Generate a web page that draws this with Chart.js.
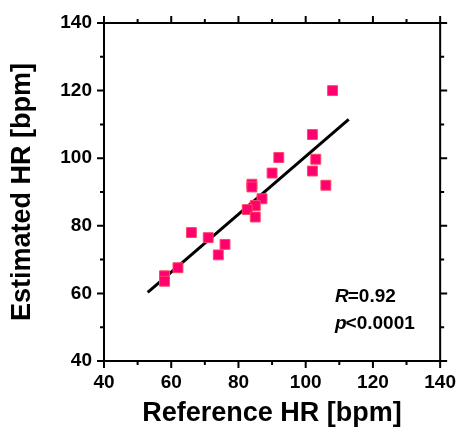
<!DOCTYPE html>
<html>
<head>
<meta charset="utf-8">
<script src="https://cdn.jsdelivr.net/npm/chart.js@4/dist/chart.umd.min.js"></script>
<style>
html,body{margin:0;padding:0;background:#fff;}
#wrap{width:459px;height:427px;position:relative;}
</style>
</head>
<body>
<div id="wrap"><canvas id="c" width="459" height="427"></canvas></div>
<script>
// Data
const referenceHR = [108, 102, 92, 103, 90, 102, 106, 84, 84, 87, 85, 82.6, 85, 66, 71, 76, 74, 62, 58, 58];
const estimatedHR = [120, 107, 100.2, 99.7, 95.6, 96.2, 92, 92.3, 91.5, 88, 86, 84.8, 82.6, 78, 76.5, 74.5, 71.4, 67.6, 65.2, 63.6];
const fitX = [53, 112.8];
const fitY = [60.3, 111.5];
const axisTicks = [40, 50, 60, 70, 80, 90, 100, 110, 120, 130, 140];
const statsLines = [["R", "=0.92"], ["p", "<0.0001"]];

const FONT = "'Liberation Sans', Arial, sans-serif";

const points = referenceHR.map((x, i) => ({x: x, y: estimatedHR[i]}));
const fitLine = fitX.map((x, i) => ({x: x, y: fitY[i]}));

const frame = {
  id: 'frame',
  afterDatasetsDraw(chart) {
    const ctx = chart.ctx;
    const a = chart.chartArea;
    const xs = chart.scales.x, ys = chart.scales.y;
    ctx.save();
    ctx.strokeStyle = '#000';
    ctx.lineWidth = 2;
    ctx.beginPath();
    ctx.moveTo(a.left, a.top); ctx.lineTo(a.right, a.top);
    ctx.moveTo(a.right, a.top); ctx.lineTo(a.right, a.bottom);
    ctx.stroke();
    axisTicks.forEach((v, i) => {
      const len = (i % 2 === 0) ? 7 : 4;
      const px = xs.getPixelForValue(v);
      const py = ys.getPixelForValue(v);
      ctx.beginPath();
      ctx.moveTo(px, a.bottom); ctx.lineTo(px, a.bottom + len);
      ctx.moveTo(px, a.top); ctx.lineTo(px, a.top - len);
      ctx.moveTo(a.left, py); ctx.lineTo(a.left - len, py);
      ctx.moveTo(a.right, py); ctx.lineTo(a.right + len, py);
      ctx.stroke();
    });
    ctx.fillStyle = '#000';
    ctx.textBaseline = 'alphabetic';
    ctx.textAlign = 'left';
    const tx = a.left + 231;
    const baseY = [a.top + 279, a.top + 305.5];
    statsLines.forEach((ln, i) => {
      ctx.font = "italic bold 19px " + FONT;
      ctx.fillText(ln[0], tx, baseY[i]);
      const w = ctx.measureText(ln[0]).width;
      ctx.font = "bold 19px " + FONT;
      ctx.fillText(ln[1], tx + w - 1, baseY[i]);
    });
    ctx.restore();
  }
};

new Chart(document.getElementById('c'), {
  type: 'scatter',
  data: {
    datasets: [
      {
        label: 'Fit',
        type: 'line',
        data: fitLine,
        borderColor: '#000',
        borderWidth: 3,
        pointRadius: 0,
        fill: false,
        order: 2
      },
      {
        label: 'HR',
        data: points,
        pointStyle: 'rect',
        pointRadius: 7,
        pointHoverRadius: 7,
        backgroundColor: 'rgb(255,0,110)',
        borderColor: 'rgb(255,70,100)',
        borderWidth: 1,
        order: 1
      }
    ]
  },
  options: {
    responsive: false,
    animation: false,
    events: [],
    layout: {padding: {top: 23, right: 17, left: 0, bottom: 0}},
    plugins: {legend: {display: false}, tooltip: {enabled: false}},
    scales: {
      x: {
        type: 'linear',
        min: 40, max: 140,
        afterFit(s) { s.height = 66; },
        ticks: {
          stepSize: 20,
          color: '#000',
          padding: 3,
          font: {family: FONT, size: 19, weight: 'bold'}
        },
        grid: {drawOnChartArea: false, tickLength: 7, tickColor: 'rgba(0,0,0,0)'},
        border: {color: '#000', width: 2},
        title: {
          display: true,
          text: 'Reference HR [bpm]',
          color: '#000',
          padding: {top: 0, bottom: 0},
          font: {family: FONT, size: 27, weight: 'bold', lineHeight: 1}
        }
      },
      y: {
        type: 'linear',
        min: 40, max: 140,
        afterFit(s) { s.width = 104; },
        ticks: {
          stepSize: 20,
          color: '#000',
          padding: 5,
          font: {family: FONT, size: 19, weight: 'bold'}
        },
        grid: {drawOnChartArea: false, tickLength: 7, tickColor: 'rgba(0,0,0,0)'},
        border: {color: '#000', width: 2},
        title: {
          display: true,
          text: 'Estimated HR [bpm]',
          color: '#000',
          padding: {top: 9, bottom: 0},
          font: {family: FONT, size: 27, weight: 'bold', lineHeight: 1}
        }
      }
    }
  },
  plugins: [frame]
});
</script>
</body>
</html>
